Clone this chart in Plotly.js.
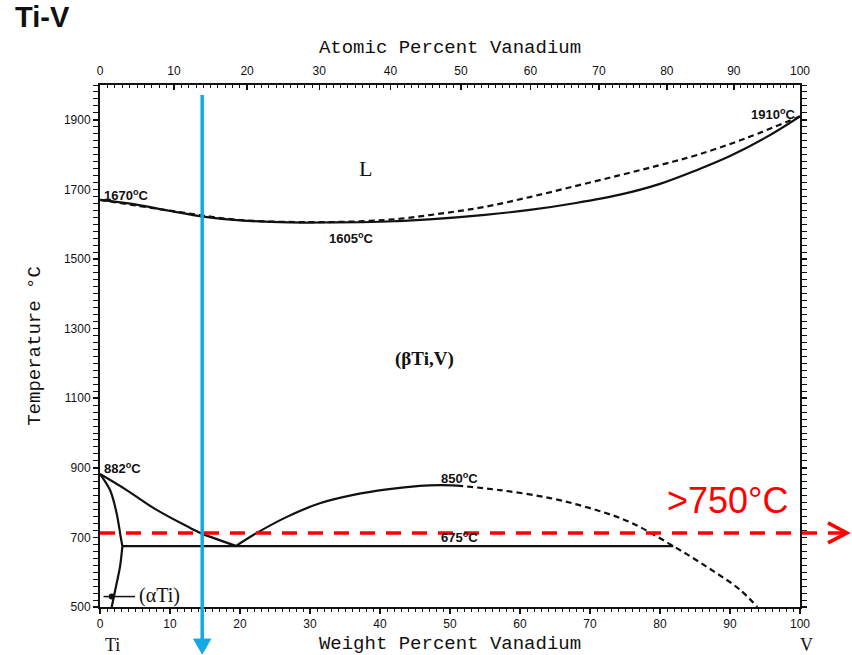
<!DOCTYPE html>
<html>
<head>
<meta charset="utf-8">
<script src="https://cdn.plot.ly/plotly-3.0.1.min.js"></script>
<style>html,body{margin:0;padding:0;background:#fff;}#chart{width:852px;height:655px;}</style>
</head>
<body>
<div id="chart"></div>
<script>
// ---------- data ----------
const wtTickVals = [0,10,20,30,40,50,60,70,80,90,100];
const atTickLabels = [0,10,20,30,40,50,60,70,80,90,100];
const tempTicks = [500,700,900,1100,1300,1500,1700,1900];

const solidusWt = [0,5,10,15,20,27,33,40,47,55,61.4,68,74.3,80,85.3,90,95,100];
const solidusT  = [1670,1657,1638,1621,1611,1605,1605,1607,1614,1627,1641,1661,1685,1716,1756,1796,1848,1910];

const liquidusWt = [0,10,20,30,38,43,47,51,55,61.4,68,74.3,80,85.3,92.4,100];
const liquidusT  = [1670,1639,1612,1606,1609,1616,1626,1637,1650,1678,1710,1741,1770,1799,1848,1910];

const transusWt = [0,3.8,8.1,12.9,14.3,19.5];
const transusT  = [882,836,779,727,713,675];

const alphaUpperWt = [0,1.43,2.38,2.95,3.2];
const alphaUpperT  = [882,836,769,702,675];
const alphaLowerWt = [3.2,2.86,2.38,1.67];
const alphaLowerT  = [675,616,568,500];

const eutectoidWt = [3.2,81.9];
const eutectoidT  = [675,675];

const gapSolidWt = [19.4,21.9,26.7,31.4,36.2,41,45.7,48.6,51];
const gapSolidT  = [675,707,759,798,822,838,848,850,849];
const gapDashWt  = [51,57.1,64.3,70,75.7,81.9,87.1,91.4,93.9];
const gapDashT   = [849,836,813,784,744,675,610,550,500];

const alphaPointerWt = [0.5,5];
const alphaPointerT  = [530,530];
const alphaDotWt = [1.67];
const alphaDotT  = [530];

const blueLineWt = 14.6;     // vertical composition line
const redLineT   = 713;      // horizontal temperature line

// ---------- helpers ----------
const xRange = [0,100], yRange = [500,2000];
const M = {l:100, r:52, t:85, b:48};
const W = 852, H = 655;
const plotW = W - M.l - M.r, plotH = H - M.t - M.b;
const MV = 50.9415, MTi = 47.867;
function atToWt(a){ return a*MV/(a*MV+(100-a)*MTi)*100; }
function pxX(px){ return (px - M.l)/plotW; }         // pixel -> paper
function pxY(py){ return (H - M.b - py)/plotH; }

const atTickVals = atTickLabels.map(atToWt);
const atMinor = [];
for (let a=0; a<=100; a++) atMinor.push(atToWt(a));

const ink = '#111';
const lw = 2.2;
function line(x,y,dash){
  return {x:x, y:y, type:'scatter', mode:'lines', line:{color:ink, width:lw, dash:dash||'solid', shape:'spline', smoothing:1}, hoverinfo:'skip', showlegend:false};
}

const traces = [
  line(solidusWt, solidusT),
  line(liquidusWt, liquidusT, '6px,4px'),
  line(transusWt, transusT),
  line(alphaUpperWt, alphaUpperT),
  line(alphaLowerWt, alphaLowerT),
  line(eutectoidWt, eutectoidT),
  line(gapSolidWt, gapSolidT),
  line(gapDashWt, gapDashT, '6px,4px'),
  {x:alphaPointerWt, y:alphaPointerT, type:'scatter', mode:'lines', line:{color:ink, width:1.5}, hoverinfo:'skip', showlegend:false},
  {x:alphaDotWt, y:alphaDotT, type:'scatter', mode:'markers', marker:{color:ink, size:6}, hoverinfo:'skip', showlegend:false},
  {x:[0,100], y:[500,500], xaxis:'x2', type:'scatter', mode:'lines', line:{width:0}, hoverinfo:'skip', showlegend:false},
  {x:[0,100], y:[500,500], xaxis:'x3', type:'scatter', mode:'lines', line:{width:0}, hoverinfo:'skip', showlegend:false}
];

const tickFont = {family:'Liberation Sans, Arial, sans-serif', size:12, color:'#111'};
const monoFont = {family:'Liberation Mono, Courier New, monospace', size:19, color:'#111'};
const lblFont = {family:'Liberation Sans, Arial, sans-serif', size:13, color:'#111', weight:'bold'};

// blue arrow geometry in paper coords
const bx = (blueLineWt - xRange[0])/(xRange[1]-xRange[0]);
const blue = '#12A9E6';
const ry = (redLineT - yRange[0])/(yRange[1]-yRange[0]);
const red = '#FF0000';
const tipX = pxX(847), backX = pxX(828), armDy = 10/plotH;
const triHalf = 8.5/plotW;

const shapes = [
  {type:'line', xref:'paper', yref:'paper', x0:bx, x1:bx, y0:pxY(95), y1:pxY(641), line:{color:blue, width:3.5}},
  {type:'path', xref:'paper', yref:'paper', path:`M ${bx-triHalf} ${pxY(639)} L ${bx+triHalf} ${pxY(639)} L ${bx} ${pxY(654)} Z`, fillcolor:blue, line:{color:blue, width:1}},
  {type:'line', xref:'paper', yref:'paper', x0:0, x1:pxX(843), y0:ry, y1:ry, line:{color:red, width:3.5, dash:'15px,11px'}},
  {type:'path', xref:'paper', yref:'paper', path:`M ${backX} ${ry+armDy} L ${tipX} ${ry} L ${backX} ${ry-armDy}`, line:{color:red, width:3.5}}
];

function ann(text,x,y,font,xanchor){
  return {text:text, x:x, y:y, xref:'x', yref:'y', showarrow:false, font:font, xanchor:xanchor||'center', yanchor:'middle'};
}
const annotations = [
  ann('1670<sup>o</sup>C', 0.3, 1684, lblFont, 'left'),
  ann('1605<sup>o</sup>C', 35.9, 1560, lblFont),
  ann('1910<sup>o</sup>C', 99.6, 1917, lblFont, 'right'),
  ann('882<sup>o</sup>C', 0.3, 899, lblFont, 'left'),
  ann('850<sup>o</sup>C', 51.4, 871, lblFont),
  ann('675<sup>o</sup>C', 51.4, 701, lblFont),
  ann('L', 37.9, 1761, {family:'Liberation Serif, Times New Roman, serif', size:22, color:'#111'}),
  ann('(βTi,V)', 46.4, 1213, {family:'Liberation Serif, Times New Roman, serif', size:19, color:'#111', weight:'bold'}),
  ann('(αTi)', 5.3, 534, {family:'Liberation Serif, Times New Roman, serif', size:20, color:'#111'}, 'left'),
  ann('>750°C', 89.7, 805, {family:'Liberation Sans, Arial, sans-serif', size:36, color:red}),
  {text:'Ti', xref:'paper', yref:'paper', x:pxX(112), y:pxY(645), showarrow:false, xanchor:'center', yanchor:'middle', font:{family:'Liberation Serif, Times New Roman, serif', size:18, color:'#111'}},
  {text:'V', xref:'paper', yref:'paper', x:pxX(806), y:pxY(645), showarrow:false, xanchor:'center', yanchor:'middle', font:{family:'Liberation Serif, Times New Roman, serif', size:18, color:'#111'}}
];

const layout = {
  width:W, height:H,
  margin:M,
  paper_bgcolor:'#fff', plot_bgcolor:'#fff',
  showlegend:false,
  title:{text:'<b>Ti-V</b>', x:15/W, xanchor:'left', xref:'container', y:1-17/H, yanchor:'middle', yref:'container',
         font:{family:'Liberation Sans, Arial, sans-serif', size:29, color:'#111'}},
  xaxis:{range:xRange, tickmode:'linear', tick0:0, dtick:10, ticks:'outside', ticklen:5, tickwidth:1.5, tickcolor:ink,
         minor:{dtick:1, ticks:'outside', ticklen:3, tickcolor:ink, tickwidth:1},
         showline:true, linewidth:2, linecolor:ink, showgrid:false, zeroline:false, tickfont:tickFont,
         title:{text:'Weight Percent Vanadium', font:monoFont, standoff:6}},
  xaxis2:{range:xRange, overlaying:'x', side:'top', anchor:'y', tickmode:'array', tickvals:atTickVals, ticktext:atTickLabels.map(String),
          ticks:'inside', ticklen:5, tickwidth:1.5, tickcolor:ink, ticklabelstandoff:3, showline:true, linewidth:2, linecolor:ink, showgrid:false, zeroline:false,
          tickfont:tickFont, title:{text:'Atomic Percent Vanadium', font:monoFont, standoff:6}},
  xaxis3:{range:xRange, overlaying:'x', side:'top', anchor:'y', tickmode:'array', tickvals:atMinor, ticks:'inside', ticklen:3, tickwidth:1, tickcolor:ink,
          showticklabels:false, showline:false, showgrid:false, zeroline:false},
  yaxis:{range:yRange, tickmode:'array', tickvals:tempTicks, ticks:'outside', ticklen:5, tickwidth:1.5, tickcolor:ink,
         minor:{tickmode:'linear', tick0:500, dtick:20, ticks:'outside', ticklen:3, tickcolor:ink, tickwidth:1},
         mirror:'allticks', showline:true, linewidth:2, linecolor:ink, showgrid:false, zeroline:false, tickfont:tickFont,
         title:{text:'Temperature °C', font:monoFont, standoff:18}},
  shapes:shapes,
  annotations:annotations
};

Plotly.newPlot('chart', traces, layout, {displayModeBar:false, staticPlot:true});
</script>
</body>
</html>
